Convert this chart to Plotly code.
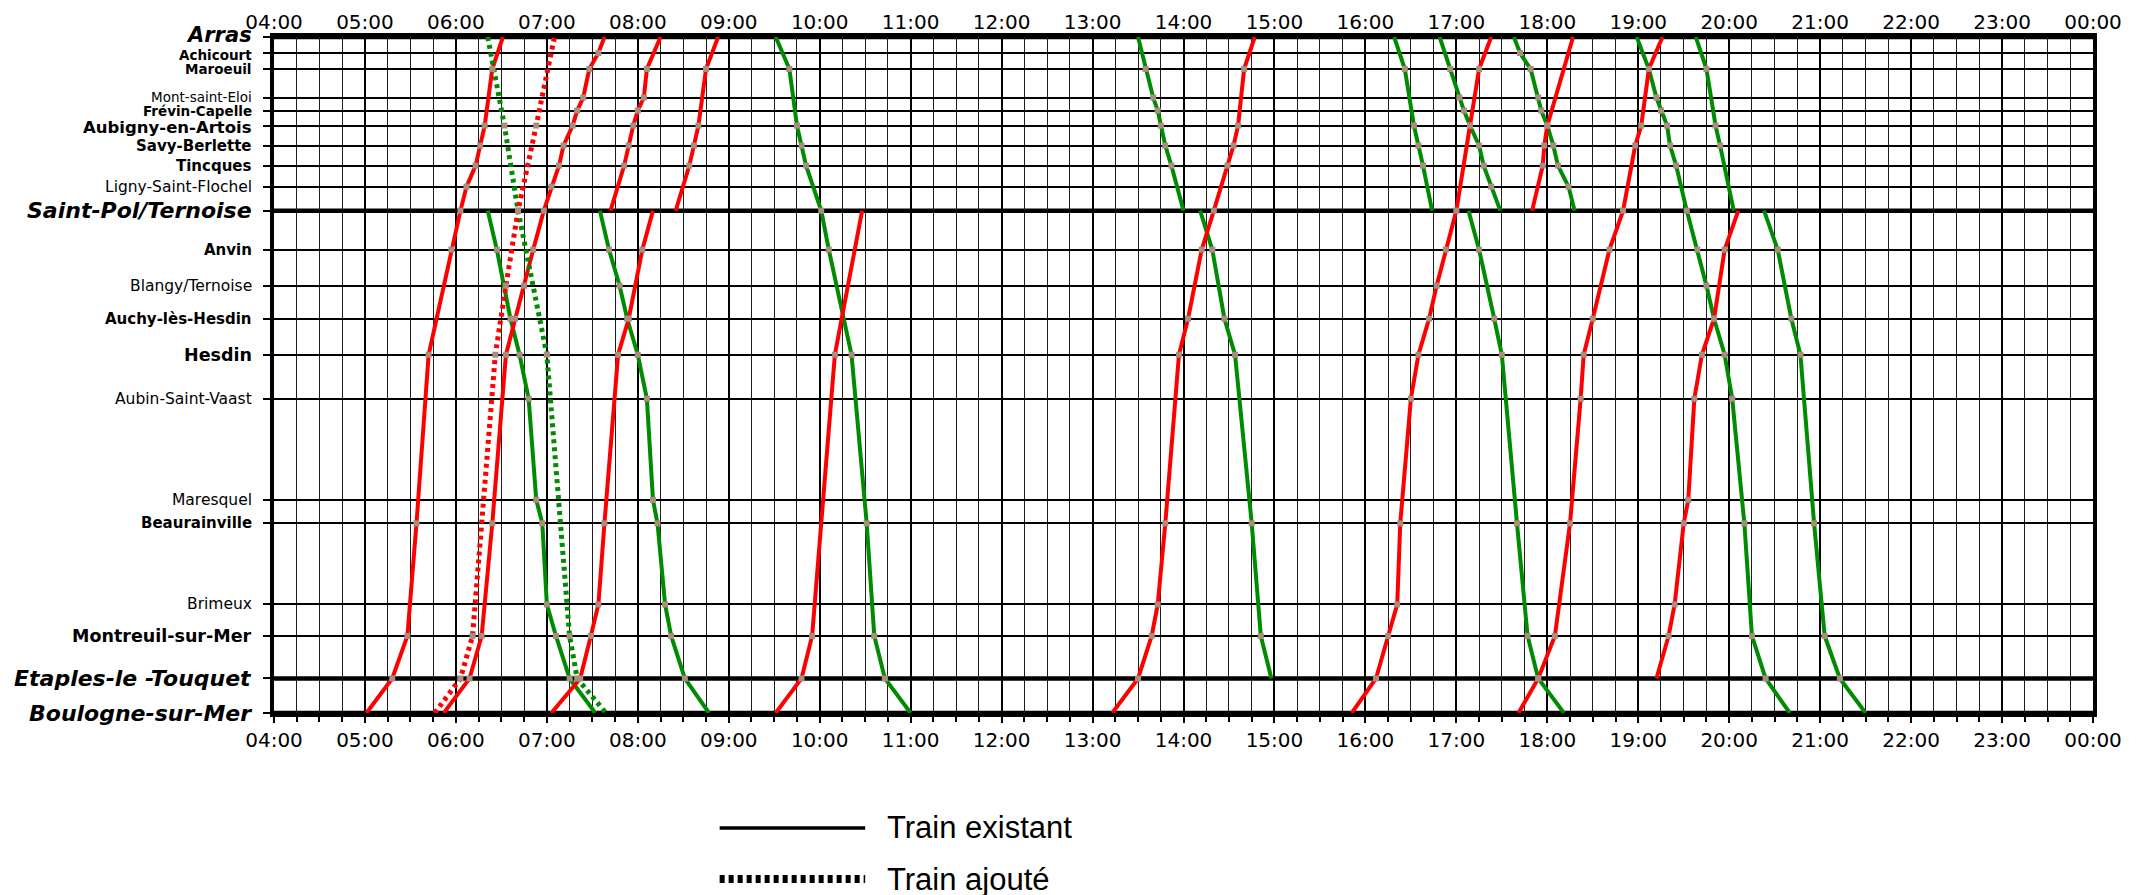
import plotly.graph_objects as go

# stations, top (Arras) to bottom (Boulogne), position in km from Arras
station_codes = ["ARR", "ACH", "MAR", "MSE", "FRE", "AUB", "SAV", "TIN", "LIG", "SPO", "ANV",
                 "BLA", "AUC", "HES", "ASV", "MRS", "BEA", "BRI", "MON", "ETA", "BOU"]
station_names = ["Arras", "Achicourt", "Maroeuil", "Mont-saint-Eloi", "Frévin-Capelle",
                 "Aubigny-en-Artois", "Savy-Berlette", "Tincques", "Ligny-Saint-Flochel",
                 "Saint-Pol/Ternoise", "Anvin", "Blangy/Ternoise", "Auchy-lès-Hesdin", "Hesdin",
                 "Aubin-Saint-Vaast", "Maresquel", "Beaurainville", "Brimeux", "Montreuil-sur-Mer",
                 "Etaples-le -Touquet", "Boulogne-sur-Mer"]
station_km = [0, 3.2, 6.4, 12.1, 14.7, 17.7, 21.7, 25.7, 29.9, 34.7, 42.5,
              49.7, 56.3, 63.5, 72.3, 92.5, 97.2, 113.4, 119.7, 128.2, 135.1]

main_stations = ["ARR", "SPO", "ETA", "BOU"]
plain_stations = ["MSE", "LIG", "BLA", "ASV", "MRS", "BRI"]
big_stations = ["AUB", "HES", "MON"]
crowded_stations = ["ACH", "MAR", "MSE", "FRE"]

hour_ticks = [4, 5, 6, 7, 8, 9, 10, 11, 12, 13, 14, 15, 16, 17, 18, 19, 20, 21, 22, 23, 24]
hour_labels = ["04:00", "05:00", "06:00", "07:00", "08:00", "09:00", "10:00", "11:00", "12:00",
               "13:00", "14:00", "15:00", "16:00", "17:00", "18:00", "19:00", "20:00", "21:00",
               "22:00", "23:00", "00:00"]

# trains towards Arras (red)
r01 = [("BOU", "05:01"), ("ETA", "05:18"), ("MON", "05:28"), ("BEA", "05:34"), ("HES", "05:42"),
       ("ANV", "05:57"), ("SPO", "06:03"), ("LIG", "06:07"), ("TIN", "06:13"), ("SAV", "06:16"),
       ("AUB", "06:19"), ("MAR", "06:24"), ("ARR", "06:31")]
r_add = [("BOU", "05:46"), ("ETA", "06:03"), ("MON", "06:11"), ("HES", "06:26"), ("BLA", "06:33"),
         ("SPO", "06:41"), ("AUB", "06:53"), ("ARR", "07:05")]
r02 = [("BOU", "05:52"), ("ETA", "06:09"), ("MON", "06:17"), ("BEA", "06:24"), ("HES", "06:33"),
       ("AUC", "06:39"), ("BLA", "06:45"), ("ANV", "06:51"), ("SPO", "06:58"), ("LIG", "07:03"),
       ("TIN", "07:08"), ("SAV", "07:11"), ("AUB", "07:17"), ("FRE", "07:20"), ("MSE", "07:24"),
       ("MAR", "07:28"), ("ACH", "07:34"), ("ARR", "07:38")]
r03 = [("SPO", "07:42"), ("TIN", "07:51"), ("SAV", "07:54"), ("AUB", "07:57"), ("FRE", "08:00"),
       ("MSE", "08:04"), ("MAR", "08:06"), ("ARR", "08:15")]
r04 = [("BOU", "07:03"), ("ETA", "07:22"), ("MON", "07:29"), ("BRI", "07:34"), ("BEA", "07:38"),
       ("HES", "07:47"), ("AUC", "07:54"), ("ANV", "08:03"), ("SPO", "08:10")]
r05 = [("SPO", "08:25"), ("TIN", "08:34"), ("SAV", "08:37"), ("AUB", "08:40"), ("MAR", "08:45"),
       ("ARR", "08:53")]
r06 = [("BOU", "09:31"), ("ETA", "09:48"), ("MON", "09:55"), ("HES", "10:10"), ("SPO", "10:28")]
r07 = [("BOU", "13:13"), ("ETA", "13:30"), ("MON", "13:39"), ("BRI", "13:43"), ("BEA", "13:48"),
       ("HES", "13:57"), ("AUC", "14:03"), ("ANV", "14:12"), ("SPO", "14:20"), ("TIN", "14:29"),
       ("SAV", "14:33"), ("AUB", "14:36"), ("MAR", "14:40"), ("ARR", "14:47")]
r08 = [("BOU", "15:51"), ("ETA", "16:07"), ("MON", "16:15"), ("BRI", "16:21"), ("BEA", "16:23"),
       ("ASV", "16:30"), ("HES", "16:35"), ("AUC", "16:42"), ("BLA", "16:47"), ("ANV", "16:53"),
       ("SPO", "17:00"), ("AUB", "17:09"), ("MAR", "17:15"), ("ARR", "17:23")]
r09 = [("SPO", "17:50"), ("TIN", "17:57"), ("SAV", "17:58"), ("AUB", "18:00"), ("ARR", "18:17")]
r10 = [("BOU", "17:41"), ("ETA", "17:54"), ("MON", "18:05"), ("BEA", "18:15"), ("ASV", "18:22"),
       ("HES", "18:24"), ("AUC", "18:30"), ("ANV", "18:41"), ("SPO", "18:50"), ("SAV", "18:58"),
       ("AUB", "19:02"), ("MAR", "19:07"), ("ARR", "19:16")]
r11 = [("ETA", "19:12"), ("MON", "19:20"), ("BRI", "19:24"), ("BEA", "19:30"), ("MRS", "19:33"),
       ("ASV", "19:37"), ("HES", "19:42"), ("AUC", "19:50"), ("ANV", "19:57"), ("SPO", "20:06")]

# trains from Arras (green)
g_add = [("ARR", "06:21"), ("AUB", "06:32"), ("SPO", "06:41"), ("HES", "07:00"), ("MON", "07:15"),
         ("ETA", "07:20"), ("BOU", "07:39")]
g01 = [("SPO", "06:21"), ("ANV", "06:27"), ("AUC", "06:36"), ("HES", "06:42"), ("ASV", "06:48"),
       ("MRS", "06:53"), ("BEA", "06:57"), ("BRI", "07:00"), ("MON", "07:06"), ("ETA", "07:15"),
       ("BOU", "07:32")]
g02 = [("SPO", "07:35"), ("ANV", "07:41"), ("BLA", "07:48"), ("AUC", "07:53"), ("HES", "08:00"),
       ("ASV", "08:06"), ("MRS", "08:10"), ("BEA", "08:13"), ("BRI", "08:18"), ("MON", "08:22"),
       ("ETA", "08:31"), ("BOU", "08:47")]
g03 = [("ARR", "09:31"), ("MAR", "09:40"), ("AUB", "09:45"), ("SAV", "09:48"), ("TIN", "09:51"),
       ("SPO", "10:01"), ("ANV", "10:06"), ("HES", "10:21"), ("BEA", "10:31"), ("MON", "10:36"),
       ("ETA", "10:43"), ("BOU", "11:00")]
g04 = [("ARR", "13:30"), ("MAR", "13:35"), ("MSE", "13:40"), ("FRE", "13:43"), ("AUB", "13:45"),
       ("SAV", "13:48"), ("TIN", "13:52"), ("SPO", "14:00")]
g05 = [("SPO", "14:11"), ("ANV", "14:19"), ("AUC", "14:27"), ("HES", "14:34"), ("BEA", "14:45"),
       ("MON", "14:51"), ("ETA", "14:58")]
g06 = [("ARR", "16:19"), ("MAR", "16:26"), ("AUB", "16:32"), ("SAV", "16:35"), ("TIN", "16:38"),
       ("SPO", "16:44")]
g07 = [("ARR", "16:49"), ("MAR", "16:56"), ("MSE", "17:02"), ("FRE", "17:05"), ("AUB", "17:09"),
       ("SAV", "17:15"), ("TIN", "17:18"), ("LIG", "17:23"), ("SPO", "17:29")]
g08 = [("SPO", "17:08"), ("ANV", "17:15"), ("AUC", "17:25"), ("HES", "17:30"), ("BEA", "17:40"),
       ("MON", "17:47"), ("ETA", "17:54"), ("BOU", "18:11")]
g09 = [("ARR", "17:38"), ("ACH", "17:42"), ("MAR", "17:49"), ("MSE", "17:54"), ("FRE", "17:56"),
       ("AUB", "18:00"), ("SAV", "18:04"), ("TIN", "18:07"), ("LIG", "18:14"), ("SPO", "18:18")]
g10 = [("ARR", "18:59"), ("MAR", "19:07"), ("MSE", "19:12"), ("FRE", "19:15"), ("AUB", "19:19"),
       ("SAV", "19:21"), ("TIN", "19:25"), ("SPO", "19:32"), ("ANV", "19:39"), ("BLA", "19:45"),
       ("AUC", "19:50"), ("HES", "19:57"), ("ASV", "20:02"), ("BEA", "20:10"), ("MON", "20:15"),
       ("ETA", "20:24"), ("BOU", "20:40")]
g11 = [("ARR", "19:38"), ("MAR", "19:45"), ("AUB", "19:51"), ("SAV", "19:54"), ("SPO", "20:03")]
g12 = [("SPO", "20:23"), ("ANV", "20:32"), ("AUC", "20:41"), ("HES", "20:47"), ("BEA", "20:56"),
       ("MON", "21:03"), ("ETA", "21:13"), ("BOU", "21:30")]

red_existing = [r01, r02, r03, r04, r05, r06, r07, r08, r09, r10, r11]
green_existing = [g01, g02, g03, g04, g05, g06, g07, g08, g09, g10, g11, g12]
red_added = [r_add]
green_added = [g_add]

RED = "rgb(255,0,0)"
GREEN = "rgb(0,140,0)"
STOP = "rgb(168,142,128)"

km_of = dict(zip(station_codes, station_km))


def hours(s):
    h, m = s.split(":")
    return int(h) + int(m) / 60


fig = go.Figure()
stop_x, stop_y = [], []


def add_train(stops, color, dash, width):
    xs = [hours(t) for _, t in stops]
    ys = [km_of[c] for c, _ in stops]
    fig.add_trace(go.Scatter(x=xs, y=ys, mode="lines", showlegend=False, hoverinfo="skip",
                             line=dict(color=color, width=width, dash=dash)))
    stop_x.extend(xs[1:-1])
    stop_y.extend(ys[1:-1])


for tr in green_existing:
    add_train(tr, GREEN, "solid", 4)
for tr in red_existing:
    add_train(tr, RED, "solid", 4)
for tr in green_added:
    add_train(tr, GREEN, "4px,4px", 5)
for tr in red_added:
    add_train(tr, RED, "4px,4px", 5)

# stop markers, on the overlaying top axis so they sit above the lines
fig.add_trace(go.Scatter(x=stop_x, y=stop_y, mode="markers", xaxis="x2", yaxis="y",
                         showlegend=False, hoverinfo="skip",
                         marker=dict(symbol="square", size=6, color=STOP,
                                     line=dict(width=0))))

shapes = []
for c in main_stations:
    shapes.append(dict(type="line", xref="paper", x0=0, x1=1, yref="y", y0=km_of[c], y1=km_of[c],
                       line=dict(color="black", width=4.5), layer="between"))

# legend drawn by hand
shapes.append(dict(type="line", xref="paper", yref="paper", x0=0.245, x1=0.325, y0=-0.170, y1=-0.170,
                   line=dict(color="black", width=3.5)))
shapes.append(dict(type="line", xref="paper", yref="paper", x0=0.245, x1=0.325, y0=-0.2456, y1=-0.2456,
                   line=dict(color="black", width=8, dash="5px,4px")))

label_font = "DejaVu Sans"
annotations = []
for code, name, km in zip(station_codes, station_names, station_km):
    shift = 0
    if code in main_stations:
        txt, size = "<b><i>" + name + "</i></b>", 22
        if code == "ARR":
            size, shift = 21, 2
    elif code in plain_stations:
        txt, size = name, 15.5
    elif code in big_stations:
        txt, size = "<b>" + name + "</b>", 17.5
        if code == "AUB":
            size, shift = 16.5, -2
    else:
        txt, size = "<b>" + name + "</b>", 15
    if code in crowded_stations:
        size = 13.5
        if code == "ACH":
            shift = -2
        if code == "MSE":
            shift = 1
    annotations.append(dict(x=0, xref="paper", y=km, yref="y", text=txt, showarrow=False,
                            xanchor="right", yanchor="middle", xshift=-21, yshift=shift,
                            borderpad=0,
                            font=dict(family=label_font, size=size, color="black")))

legend_font = dict(family="Liberation Sans, Arial", size=31, color="black")
annotations.append(dict(x=0.336, y=-0.170, xref="paper", yref="paper", text="Train existant",
                        showarrow=False, xanchor="left", yanchor="middle", font=legend_font))
annotations.append(dict(x=0.336, y=-0.2456, xref="paper", yref="paper", text="Train ajouté",
                        showarrow=False, xanchor="left", yanchor="middle", font=legend_font))

tick_font = dict(family="DejaVu Sans", size=20, color="black")

# the page body adds an 8px offset, margins are set so the plot lands where it should
fig.update_layout(
    width=2145, height=895,
    margin=dict(l=266, r=60, t=29, b=190),
    paper_bgcolor="white", plot_bgcolor="white",
    showlegend=False,
    shapes=shapes,
    annotations=annotations,
    xaxis=dict(range=[4, 24], tickvals=hour_ticks, ticktext=hour_labels, side="bottom",
               showgrid=True, gridcolor="black", gridwidth=2,
               minor=dict(dtick=0.25, tick0=4, showgrid=True, gridcolor="rgb(30,30,30)", gridwidth=1,
                          ticks="outside", ticklen=5, tickcolor="black"),
               ticks="outside", ticklen=6, tickwidth=2, tickcolor="black",
               showline=True, mirror=True, linewidth=4, linecolor="black",
               zeroline=False, tickfont=tick_font, automargin=False),
    xaxis2=dict(overlaying="x", matches="x", side="top", tickvals=hour_ticks, ticktext=hour_labels,
                showgrid=False, ticks="", showline=False, zeroline=False, tickfont=tick_font,
                ticklabelstandoff=3, automargin=False),
    yaxis=dict(range=[station_km[-1], station_km[0]], tickvals=station_km, showticklabels=False,
               showgrid=True, gridcolor="black", gridwidth=1.5,
               ticks="outside", ticklen=7, tickwidth=1.5, tickcolor="black",
               showline=True, mirror=True, linewidth=4, linecolor="black", zeroline=False,
               automargin=False),
)

fig.write_html("out.html")
